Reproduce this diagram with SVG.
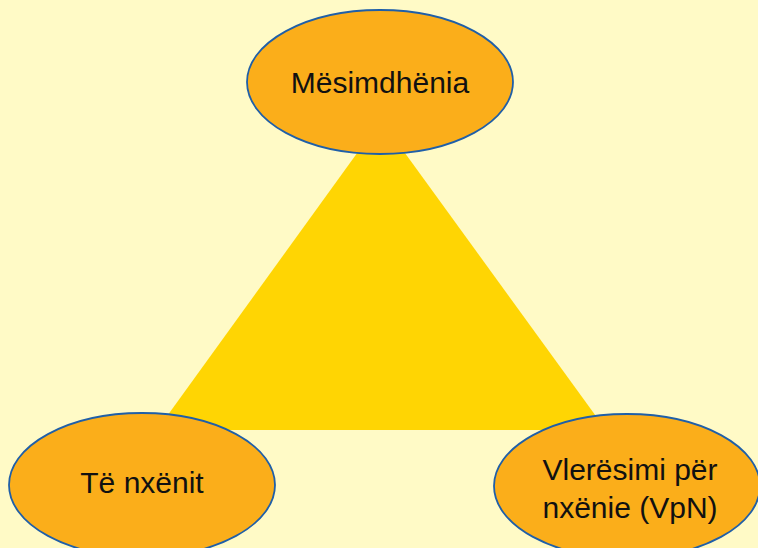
<svg xmlns="http://www.w3.org/2000/svg" width="758" height="548" viewBox="0 0 758 548">
<style>
.node ellipse{fill:#FBAE1A;stroke:#1F5FA8;stroke-width:1.8}
.node text{font-family:"Liberation Sans",Arial,sans-serif;font-size:30px;fill:#111;text-anchor:middle}
</style>
<rect width="758" height="548" fill="#FFFAC6"/>
<g id="connectors">
<polygon points="381,120 157,430 606,430" fill="#FFD503"/>
</g>
<g id="mesimdhenia" class="node">
<ellipse cx="380" cy="82" rx="133" ry="72"/>
<text x="380" y="93">Mësimdhënia</text>
</g>
<g id="te-nxenit" class="node">
<ellipse cx="142" cy="485" rx="133" ry="72"/>
<text x="142" y="493">Të nxënit</text>
</g>
<g id="vpn" class="node">
<ellipse cx="627" cy="486" rx="133" ry="72"/>
<text x="630" y="480">Vlerësimi për</text>
<text x="630" y="518">nxënie (VpN)</text>
</g>
</svg>
